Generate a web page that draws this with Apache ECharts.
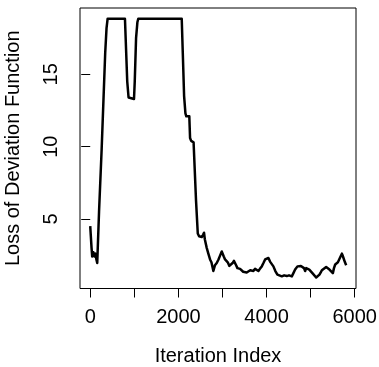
<!DOCTYPE html>
<html>
<head>
<meta charset="utf-8">
<script src="https://cdn.jsdelivr.net/npm/echarts@6/dist/echarts.min.js"></script>
<style>
    html, body { margin: 0; padding: 0; background: #fff; }
    #main { width: 379px; height: 367px; }
</style>
</head>
<body>
<div id="main"></div>
<script>
// iteration index and loss
var iterations = [
    0, 30, 45, 70, 84, 100, 120, 140, 159, 200, 259, 300, 340, 370, 395,
    788, 810, 840, 870, 886, 993, 1010, 1040, 1070, 1090,
    2076, 2100, 2130, 2160, 2180, 2248, 2265, 2290, 2320, 2345, 2400, 2440,
    2470, 2500, 2530, 2560, 2582, 2600, 2643, 2680, 2719, 2750, 2794, 2830,
    2870, 2910, 2950, 2984, 3010, 3030, 3059, 3090, 3120, 3157, 3190, 3230,
    3260, 3286, 3310, 3340, 3362, 3400, 3438, 3470, 3513, 3550, 3589, 3630,
    3660, 3702, 3740, 3770, 3816, 3850, 3892, 3930, 3968, 4000, 4043, 4080,
    4110, 4156, 4200, 4247, 4290, 4347, 4400, 4460, 4510, 4574, 4610, 4649,
    4680, 4702, 4740, 4780, 4824, 4850, 4876, 4900, 4929, 4970, 5010, 5051,
    5090, 5126, 5160, 5201, 5230, 5256, 5300, 5353, 5390, 5428, 5470, 5505,
    5530, 5558, 5590, 5619, 5650, 5680, 5710, 5730, 5746, 5780, 5807
];
var loss = [
    4.5, 3.0, 2.4, 2.7, 2.8, 2.4, 2.6, 2.2, 1.95, 5.5, 9.8, 13.2, 16.5, 18.2, 18.85,
    18.85, 17.0, 14.5, 13.4, 13.3, 13.3, 14.5, 17.5, 18.6, 18.85,
    18.85, 16.5, 13.5, 12.3, 12.1, 12.1, 10.6, 10.4, 10.5, 10.3, 6.3, 4.0,
    3.8, 3.9, 3.75, 3.9, 4.05, 3.6, 3.0, 2.6, 2.2, 2.0, 1.4, 1.8,
    1.95, 2.2, 2.5, 2.75, 2.7, 2.4, 2.2, 2.25, 2.0, 1.75, 1.8, 1.95,
    2.1, 2.05, 1.8, 1.6, 1.5, 1.55, 1.45, 1.35, 1.22, 1.3, 1.38, 1.45,
    1.35, 1.4, 1.55, 1.45, 1.4, 1.55, 1.72, 1.95, 2.2, 2.3, 2.3, 2.05,
    2.0, 1.72, 1.4, 1.15, 1.1, 1.03, 1.1, 1.05, 1.1, 1.03, 1.25, 1.5,
    1.6, 1.72, 1.6, 1.75, 1.84, 1.6, 1.4, 1.6, 1.72, 1.5, 1.4, 1.22,
    1.1, 0.95, 1.05, 1.15, 1.3, 1.45, 1.55, 1.68, 1.6, 1.5, 1.4, 1.25,
    1.6, 1.85, 1.9, 2.0, 2.1, 2.4, 2.6, 2.45, 2.3, 2.0, 1.8
];
var xTicks = [0, 1000, 2000, 3000, 4000, 5000, 6000];
var xLabels = [0, 2000, 4000, 6000];
var yTicks = [5, 10, 15];

var font = 'Liberation Sans, Arial, Helvetica, sans-serif';
var points = iterations.map(function (v, i) { return [v, loss[i]]; });

var myChart = echarts.init(document.getElementById('main'));
myChart.setOption({
    animation: false,
    grid: {
        left: 80,
        right: 23,
        top: 8,
        bottom: 78.5,
        outerBoundsMode: 'none',
        containLabel: false,
        show: true,
        borderColor: '#000',
        borderWidth: 1,
        backgroundColor: 'transparent'
    },
    xAxis: {
        type: 'value',
        min: -232,
        max: 6030,
        name: 'Iteration Index',
        nameLocation: 'middle',
        nameGap: 58,
        nameTextStyle: { color: '#000', fontSize: 20, fontFamily: font },
        axisLine: { show: false },
        splitLine: { show: false },
        axisTick: {
            show: true,
            length: 9,
            customValues: xTicks,
            lineStyle: { color: '#000', width: 1 }
        },
        axisLabel: {
            customValues: xLabels,
            margin: 19,
            color: '#000',
            fontSize: 20,
            fontFamily: font,
            formatter: function (v) { return String(v); }
        }
    },
    yAxis: {
        type: 'value',
        min: 0.19,
        max: 19.59,
        name: 'Loss of Deviation Function',
        nameLocation: 'middle',
        nameRotate: 90,
        nameGap: 57,
        nameTextStyle: { color: '#000', fontSize: 20, fontFamily: font },
        axisLine: { show: false },
        splitLine: { show: false },
        axisTick: {
            show: true,
            length: 9,
            customValues: yTicks,
            lineStyle: { color: '#000', width: 1 }
        },
        axisLabel: {
            customValues: yTicks,
            rotate: 90,
            margin: 19,
            color: '#000',
            fontSize: 20,
            fontFamily: font,
            formatter: function (v) { return String(v); }
        }
    },
    series: [{
        type: 'line',
        data: points,
        showSymbol: false,
        lineStyle: { color: '#000', width: 2.5, join: 'round' }
    }]
});
</script>
</body>
</html>
